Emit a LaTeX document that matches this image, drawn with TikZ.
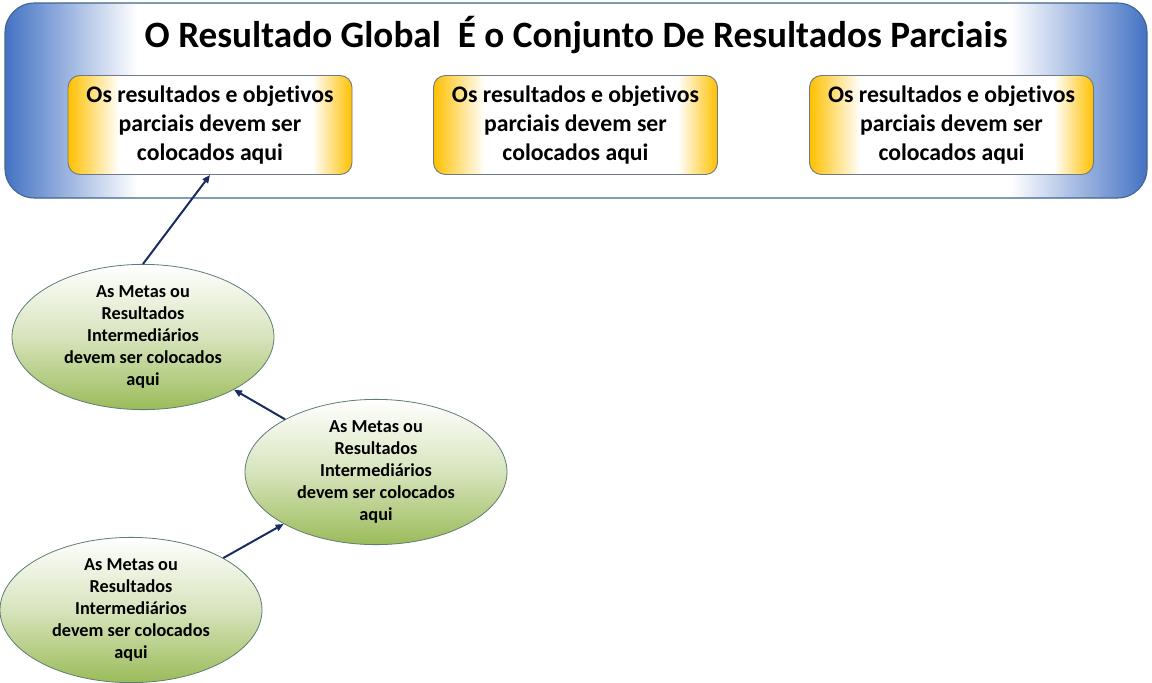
\documentclass[tikz,border=0pt]{standalone}
\usepackage{fontspec}
\setmainfont{Carlito}[Ligatures=NoCommon]
\usetikzlibrary{arrows.meta,shapes.geometric}

\definecolor{bannerblue}{RGB}{68,114,196}
\definecolor{bannerline}{RGB}{65,100,140}
\definecolor{boxgold}{RGB}{255,192,0}
\definecolor{boxline}{RGB}{110,120,135}
\definecolor{goalgreen}{RGB}{155,187,89}
\definecolor{goalline}{RGB}{95,125,115}
\definecolor{arrownavy}{RGB}{25,45,100}

\pgfdeclarehorizontalshading{bannershade}{100bp}{color(0bp)=(bannerblue); color(25bp)=(bannerblue); color(30.8bp)=(white); color(69bp)=(white); color(75bp)=(bannerblue); color(100bp)=(bannerblue)}

\pgfdeclarehorizontalshading{boxshade}{100bp}{color(0bp)=(boxgold); color(25bp)=(boxgold); color(34bp)=(white); color(68bp)=(white); color(75bp)=(boxgold); color(100bp)=(boxgold)}

\begin{document}
\begin{tikzpicture}[x=0.75pt, y=-0.75pt,
    banner/.style={draw=bannerline, line width=0.8pt, rounded corners=22pt, shading=bannershade, minimum width=856.5pt, minimum height=146.25pt},
    partial/.style={draw=boxline, line width=0.7pt, rounded corners=9pt, shading=boxshade, minimum width=213pt, minimum height=74.25pt, align=center, inner sep=0pt, font=\fontsize{17.8}{21.75}\selectfont\bfseries},
    goal/.style={ellipse, draw=goalline, line width=0.6pt, top color=white, bottom color=goalgreen, middle color=goalgreen!40, minimum width=196.5pt, minimum height=105pt, inner sep=0pt, align=center, font=\fontsize{13.7}{16.5}\selectfont\bfseries},
    link/.style={draw=arrownavy, line width=1.5pt, -{Triangle[length=6pt, width=5pt]}}]

    \useasboundingbox (0,0) rectangle (1152,682);



    \node[banner] (global) at (576,100.5) {};

    \node[font=\fontsize{27.9}{32}\selectfont\bfseries] (title) at (576,35) {O Resultado Global\ \ É o Conjunto De Resultados Parciais};



    \node[partial] (part1) at (210,125) {Os resultados e objetivos\\parciais devem ser\\colocados aqui};

    \node[partial] (part2) at (575.5,125) {Os resultados e objetivos\\parciais devem ser\\colocados aqui};

    \node[partial] (part3) at (951.5,125) {Os resultados e objetivos\\parciais devem ser\\colocados aqui};



    \node[goal] (meta1) at (143,337) {As Metas ou\\Resultados\\Intermediários\\devem ser colocados\\aqui};

    \node[goal] (meta2) at (376,472) {As Metas ou\\Resultados\\Intermediários\\devem ser colocados\\aqui};

    \node[goal] (meta3) at (131,610) {As Metas ou\\Resultados\\Intermediários\\devem ser colocados\\aqui};



    \draw[link] (meta1.north) -- (part1.south);

    \draw[link] (meta2) -- (meta1);

    \draw[link] (meta3) -- (meta2);

  \end{tikzpicture}
\end{document}
